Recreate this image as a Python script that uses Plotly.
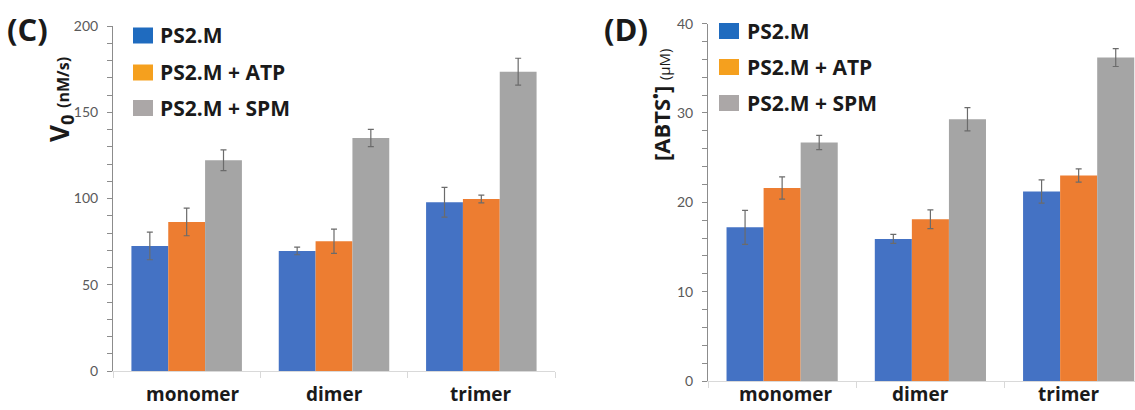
import plotly.graph_objects as go

W, H = 1135, 410

categories = ["monomer", "dimer", "trimer"]
series_names = ["PS2.M", "PS2.M + ATP", "PS2.M + SPM"]

# Panel C: initial rate V0 (nM/s)
v0_ps2m = [72.5, 69.6, 97.8]
v0_ps2m_err = [8.0, 2.2, 8.6]
v0_atp = [86.4, 75.2, 99.7]
v0_atp_err = [8.0, 7.0, 2.2]
v0_spm = [122.2, 135.1, 173.5]
v0_spm_err = [6.0, 5.0, 7.8]

# Panel D: [ABTS radical] (uM)
abts_ps2m = [17.2, 15.9, 21.2]
abts_ps2m_err = [1.9, 0.5, 1.3]
abts_atp = [21.6, 18.1, 23.0]
abts_atp_err = [1.25, 1.05, 0.75]
abts_spm = [26.7, 29.3, 36.2]
abts_spm_err = [0.8, 1.3, 1.0]

yticks_c = [0, 50, 100, 150, 200]
yticks_d = [0, 10, 20, 30, 40]

bar_colors = ["#4472C4", "#ED7D31", "#A5A5A5"]
legend_colors = ["#1F6BBF", "#F5A01E", "#ABA7A7"]

def px_x(p):
    return p / W

def px_y(p):
    return 1 - p / H

fig = go.Figure()

panel_c = [(v0_ps2m, v0_ps2m_err), (v0_atp, v0_atp_err), (v0_spm, v0_spm_err)]
panel_d = [(abts_ps2m, abts_ps2m_err), (abts_atp, abts_atp_err), (abts_spm, abts_spm_err)]

for (vals, errs), name, col in zip(panel_c, series_names, bar_colors):
    fig.add_trace(go.Bar(
        x=categories, y=vals, name=name, marker=dict(color=col, line=dict(width=0)),
        error_y=dict(type="data", array=errs, visible=True, color="#6b6b6b", thickness=1.2, width=3),
        xaxis="x", yaxis="y", showlegend=False))

for (vals, errs), name, col in zip(panel_d, series_names, bar_colors):
    fig.add_trace(go.Bar(
        x=categories, y=vals, name=name, marker=dict(color=col, line=dict(width=0)),
        error_y=dict(type="data", array=errs, visible=True, color="#6b6b6b", thickness=1.2, width=3),
        xaxis="x2", yaxis="y2", showlegend=False))

tick_font = dict(family="Lato", size=14, color="#595959")

common_x = dict(type="category", showline=True, linecolor="#d9d9d9", linewidth=1,
                ticks="outside", tickson="boundaries", ticklen=6, tickcolor="#d9d9d9",
                showticklabels=False, showgrid=False, zeroline=False, fixedrange=True,
                automargin=False)

common_y = dict(showline=True, linecolor="#8c8c8c", linewidth=1, ticks="outside", ticklen=5,
                tickcolor="#8c8c8c", showgrid=False, zeroline=False, tickfont=tick_font,
                ticklabelstandoff=6, automargin=False)

fig.update_layout(
    width=W, height=H,
    autosize=False,
    margin=dict(l=0, r=0, t=0, b=0, pad=0, autoexpand=False),
    paper_bgcolor="white", plot_bgcolor="white",
    barmode="group", bargap=0.25, bargroupgap=0,
    xaxis=dict(domain=[px_x(113), px_x(555)], range=[-0.5, 2.5], anchor="y", **common_x),
    yaxis=dict(domain=[px_y(371), px_y(26)], range=[0, 200], tickvals=yticks_c, anchor="x",
               minor=dict(dtick=10, ticks="outside", ticklen=5, tickcolor="#8c8c8c"), **common_y),
    xaxis2=dict(domain=[px_x(708), 1.0], range=[-0.5, 2.38], anchor="y2", **common_x),
    yaxis2=dict(domain=[px_y(381), px_y(23.6)], range=[0, 40], tickvals=yticks_d, anchor="x2",
                minor=dict(dtick=2, ticks="outside", ticklen=5, tickcolor="#8c8c8c"), **common_y),
)

annotations = []
shapes = []

# Category labels
label_font = dict(family="Open Sans", size=19, color="#1a1a1a")
for c, shift in zip(categories, [6, 0, 0]):
    annotations.append(dict(x=c, xref="x", y=0, yref="paper", text="<b>%s</b>" % c,
                            showarrow=False, font=label_font, xanchor="center", yanchor="bottom",
                            xshift=shift, yshift=1))
for c, shift in zip(categories, [4, -10, -10]):
    annotations.append(dict(x=c, xref="x2", y=0, yref="paper", text="<b>%s</b>" % c,
                            showarrow=False, font=label_font, xanchor="center", yanchor="bottom",
                            xshift=shift, yshift=1))

# Panel letters
letter_font = dict(family="Open Sans", size=31, color="#1a1a1a")
annotations.append(dict(x=px_x(27), y=px_y(29), xref="paper", yref="paper", text="<b>(C)</b>",
                        showarrow=False, font=letter_font, xanchor="center", yanchor="middle"))
annotations.append(dict(x=px_x(626), y=px_y(29), xref="paper", yref="paper", text="<b>(D)</b>",
                        showarrow=False, font=letter_font, xanchor="center", yanchor="middle"))

# Axis titles
annotations.append(dict(x=px_x(60), y=px_y(100), xref="paper", yref="paper", textangle=-90,
                        text="<b>V<sub>0</sub></b> <span style='font-size:16px'><b>(nM/s)</b></span>",
                        showarrow=False, font=dict(family="Open Sans", size=26, color="#1a1a1a"),
                        xanchor="center", yanchor="middle"))
annotations.append(dict(x=px_x(660), y=px_y(105), xref="paper", yref="paper", textangle=-90,
                        text="<b>[ABTS<sup>•</sup>]</b> <span style='font-size:15px'>(μM)</span>",
                        showarrow=False, font=dict(family="Open Sans", size=22, color="#1a1a1a"),
                        xanchor="center", yanchor="middle"))

# Manual legends
legend_font = dict(family="Open Sans", size=21, color="#1a1a1a")
for (sx, tx, rows) in [(133, 158, [35.5, 72.5, 108]), (719, 745, [31, 67, 103])]:
    for yc, name, col in zip(rows, series_names, legend_colors):
        shapes.append(dict(type="rect", xref="paper", yref="paper",
                           x0=px_x(sx), x1=px_x(sx + 20), y0=px_y(yc + 8), y1=px_y(yc - 8),
                           fillcolor=col, line=dict(width=0)))
        annotations.append(dict(x=px_x(tx), y=px_y(yc), xref="paper", yref="paper",
                                text="<b>%s</b>" % name, showarrow=False, font=legend_font,
                                xanchor="left", yanchor="middle"))

fig.update_layout(annotations=annotations, shapes=shapes)

fig.write_html("out.html")
